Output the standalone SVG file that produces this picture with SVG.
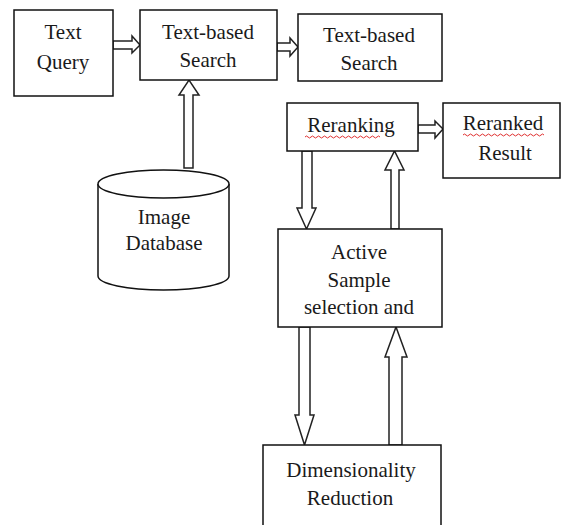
<svg xmlns="http://www.w3.org/2000/svg" width="564" height="525" viewBox="0 0 564 525">
<style>
.box{fill:#fff;stroke:#111;stroke-width:1.5}
.arr{fill:#fff;stroke:#222;stroke-width:1.5;stroke-linejoin:miter}
text{font-family:'Liberation Serif','DejaVu Serif',serif;font-size:21px;fill:#1a1a1a;text-anchor:middle}
.sq{fill:none;stroke:#e03030;stroke-width:1}
</style>
<rect width="564" height="525" fill="#fff"/>
<g id="connectors">
<polygon class="arr" points="113,41 132,41 132,36 140,45 132,53 132,49 113,49"/>
<polygon class="arr" points="277,43 290,43 290,38 298,47 290,56 290,51 277,51"/>
<polygon class="arr" points="184,168 184,95 179,95 189,80 199,95 193,95 193,168"/>
<polygon class="arr" points="418,125 435,125 435,121 443,129 435,138 435,133 418,133"/>
<polygon class="arr" points="302,151 302,208 297,208 306.5,229 316,208 312,208 312,151"/>
<polygon class="arr" points="391,229 391,170 385,170 394.5,151 404,170 399,170 399,229"/>
<polygon class="arr" points="299,327 299,415 295,415 304.5,445 314,415 310,415 310,327"/>
<polygon class="arr" points="389,445 389,357 385,357 396,327 407,357 402,357 402,445"/>
</g>
<g id="text-query">
<rect class="box" x="14" y="10" width="99" height="86"/>
<text x="63" y="39" font-family="Liberation Serif, serif">Text</text>
<text x="63" y="69" font-family="Liberation Serif, serif">Query</text>
</g>
<g id="text-search-1">
<rect class="box" x="140" y="10" width="137" height="70"/>
<text x="208" y="39">Text-based</text>
<text x="208" y="67">Search</text>
</g>
<g id="text-search-2">
<rect class="box" x="298" y="14" width="144" height="67"/>
<text x="369" y="42">Text-based</text>
<text x="369" y="70">Search</text>
</g>
<g id="image-database">
<path class="box" d="M98,184 L98,276 A65.5,14 0 0 0 229,276 L229,184"/>
<ellipse class="box" cx="163.5" cy="184" rx="65.5" ry="14"/>
<text x="164" y="224">Image</text>
<text x="164" y="250">Database</text>
</g>
<g id="reranking">
<rect class="box" x="287" y="103" width="131" height="48"/>
<text x="351" y="132">Reranking</text>
<path class="sq" d="M305,137 q1.5,-2 3,0 t3,0 t3,0 t3,0 t3,0 t3,0 t3,0 t3,0 t3,0 t3,0 t3,0 t3,0 t3,0 t3,0 t3,0 t3,0 t3,0 t3,0 t3,0 t3,0 t3,0 t3,0 t3,0 t3,0 t3,0"/>
</g>
<g id="reranked-result">
<rect class="box" x="443" y="103" width="117" height="75"/>
<text x="503" y="130">Reranked</text>
<path class="sq" d="M463,135 q1.5,-2 3,0 t3,0 t3,0 t3,0 t3,0 t3,0 t3,0 t3,0 t3,0 t3,0 t3,0 t3,0 t3,0 t3,0 t3,0 t3,0 t3,0 t3,0 t3,0 t3,0 t3,0 t3,0 t3,0 t3,0 t3,0 t3,0 t3,0"/>
<text x="505" y="160">Result</text>
</g>
<g id="active-sample">
<rect class="box" x="278" y="229" width="164" height="98"/>
<text x="359" y="259">Active</text>
<text x="359" y="287">Sample</text>
<text x="359" y="314">selection  and</text>
</g>
<g id="dimensionality">
<rect class="box" x="263" y="445" width="178" height="90"/>
<text x="351" y="477">Dimensionality</text>
<text x="350" y="505">Reduction</text>
</g>
</svg>
